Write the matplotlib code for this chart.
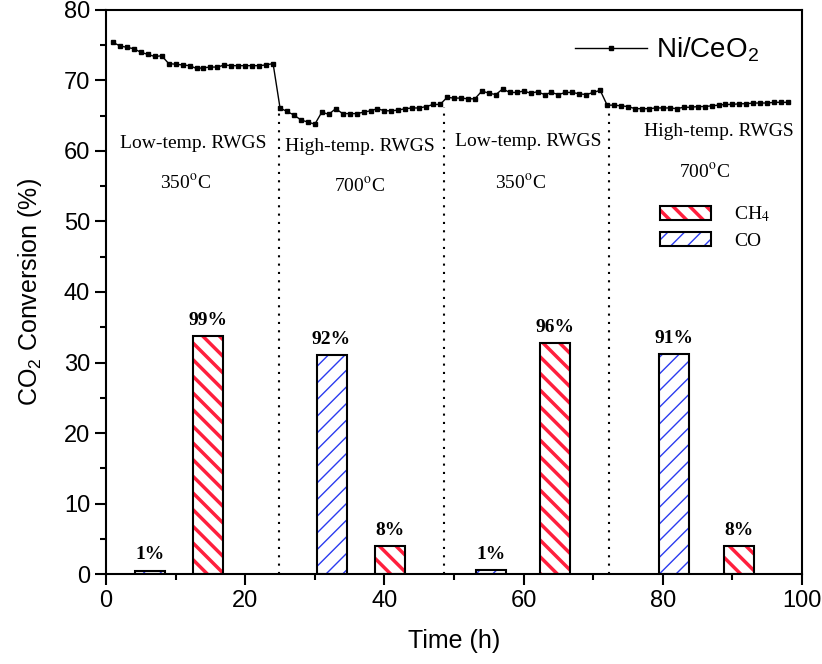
import matplotlib
matplotlib.use("Agg")
import matplotlib.pyplot as plt
from matplotlib.font_manager import FontProperties
from matplotlib.legend_handler import HandlerTuple, HandlerPatch
from matplotlib.lines import Line2D
from matplotlib.patches import Patch
import numpy as np

plt.rcParams['font.family'] = 'Liberation Sans'
plt.rcParams['mathtext.fontset'] = 'custom'
plt.rcParams['mathtext.rm'] = 'Liberation Sans'
plt.rcParams['mathtext.it'] = 'Liberation Sans:italic'
plt.rcParams['mathtext.bf'] = 'Liberation Sans:bold'

# hourly CO2 conversion of Ni/CeO2 (%)
conversion = [75.4, 74.9, 74.7, 74.5, 74.0, 73.7, 73.4, 73.5, 72.4, 72.3,
              72.2, 72.1, 71.7, 71.8, 71.9, 71.9, 72.2, 72.1, 72.1, 72.1,
              72.1, 72.1, 72.2, 72.4, 66.1, 65.6, 65.1, 64.4, 64.1, 63.8,
              65.5, 65.2, 66.0, 65.3, 65.3, 65.3, 65.5, 65.7, 66.0, 65.7,
              65.7, 65.8, 66.0, 66.1, 66.1, 66.3, 66.6, 66.6, 67.6, 67.5,
              67.5, 67.4, 67.4, 68.5, 68.2, 68.0, 68.8, 68.3, 68.3, 68.5,
              68.2, 68.4, 68.0, 68.3, 68.0, 68.3, 68.3, 68.1, 68.0, 68.3,
              68.6, 66.5, 66.5, 66.4, 66.3, 66.0, 66.0, 66.0, 66.1, 66.1,
              66.1, 66.0, 66.2, 66.2, 66.3, 66.3, 66.4, 66.5, 66.6, 66.6,
              66.7, 66.7, 66.8, 66.8, 66.8, 66.9, 66.9, 66.9]
hours = list(range(1, len(conversion) + 1))

# selectivity bars
co_time = [6.3, 32.4, 55.35, 81.6]
co_height = [0.5, 31.1, 0.6, 31.2]
co_labels = ['1%', '92%', '1%', '91%']
ch4_time = [14.6, 40.8, 64.55, 91.0]
ch4_height = [33.8, 4.0, 32.8, 4.0]
ch4_labels = ['99%', '8%', '96%', '8%']

# stage boundaries
switch_time = [24.8, 48.5, 72.3]
switch_top = [65.8, 66.3, 65.6]

stages = ['Low-temp. RWGS', 'High-temp. RWGS', 'Low-temp. RWGS', 'High-temp. RWGS']
stage_x = [12.5, 36.5, 60.6, 88.0]
stage_y = [61.1, 60.7, 61.3, 62.7]
temps = [r'350$^{\rm o}$C', r'700$^{\rm o}$C', r'350$^{\rm o}$C', r'700$^{\rm o}$C']
temp_x = [11.5, 36.5, 59.5, 86.0]
temp_y = [55.5, 55.0, 55.5, 57.0]

red = '#ff1f3d'
blue = '#2b3cf0'
serif = 'Liberation Serif'


def hatch_width(patches, lw):
    for p in patches:
        if hasattr(p, 'set_hatch_linewidth'):
            p.set_hatch_linewidth(lw)


class HatchHandler(HandlerPatch):
    # keep the thicker hatch of the original handle in the legend
    def create_artists(self, legend, orig_handle, xdescent, ydescent, width,
                       height, fontsize, trans):
        arts = super().create_artists(legend, orig_handle, xdescent, ydescent,
                                      width, height, fontsize, trans)
        if hasattr(orig_handle, 'get_hatch_linewidth'):
            hatch_width(arts, orig_handle.get_hatch_linewidth())
        return arts


fig = plt.figure(figsize=(8.22, 6.64), dpi=100)
ax = fig.add_axes([0.129, 0.1355, 0.8467, 0.8495])

bar_w = 4.3
ch4_bars = ax.bar(ch4_time, ch4_height, width=bar_w, color='white', edgecolor=red,
                  hatch='\\\\', linewidth=0)
co_bars = ax.bar(co_time, co_height, width=bar_w, color='white', edgecolor=blue,
                 hatch='//', linewidth=0)
hatch_width(ch4_bars, 2.5)
hatch_width(co_bars, 1.0)
ax.bar(ch4_time, ch4_height, width=bar_w, fill=False, edgecolor='black', linewidth=1.5)
ax.bar(co_time, co_height, width=bar_w, fill=False, edgecolor='black', linewidth=1.5)

for x, h, s in zip(co_time + ch4_time, co_height + ch4_height, co_labels + ch4_labels):
    ax.text(x, h + 1.0, s, ha='center', va='bottom', family=serif,
            fontweight='bold', fontsize=14)

for x, top in zip(switch_time, switch_top):
    ax.plot([x, x], [0, top], color='black', linestyle=(0, (1, 3)), linewidth=1.5)

ax.plot(hours, conversion, color='black', linewidth=1, marker='s', markersize=3.5)

for s, x, y in zip(stages, stage_x, stage_y):
    ax.text(x, y, s, ha='center', va='center', family=serif, fontsize=14)
for s, x, y in zip(temps, temp_x, temp_y):
    ax.text(x, y, s, ha='center', va='center', family=serif, fontsize=14,
            math_fontfamily='stix')

ax.set_xlim(0, 100)
ax.set_ylim(0, 80)
ax.set_xticks([0, 20, 40, 60, 80, 100])
ax.set_xticks([10, 30, 50, 70, 90], minor=True)
ax.set_yticks(np.arange(0, 81, 10))
ax.set_yticks(np.arange(5, 80, 10), minor=True)
ax.tick_params(which='major', direction='out', length=8, width=1.5, labelsize=17)
ax.tick_params(which='minor', direction='out', length=4, width=1.5)
for sp in ax.spines.values():
    sp.set_linewidth(1.5)

ax.set_xlabel('Time (h)', fontsize=18, labelpad=12)
ax.set_ylabel(r'CO$_2$ Conversion (%)', fontsize=18, labelpad=14)

line_leg = ax.legend(handles=[Line2D([], [], color='black', linewidth=1, marker='s',
                                     markersize=3.5)],
                     labels=[r'Ni/CeO$_2$'], loc='center left',
                     bbox_to_anchor=(0.674, 0.929), frameon=False, fontsize=20,
                     handlelength=2.6, handletextpad=0.3, borderpad=0,
                     borderaxespad=0)
ax.add_artist(line_leg)

ch4_fill = Patch(facecolor='white', edgecolor=red, hatch='\\\\', linewidth=0)
co_fill = Patch(facecolor='white', edgecolor=blue, hatch='//', linewidth=0)
hatch_width([ch4_fill], 2.5)
hatch_width([co_fill], 1.0)
ch4_edge = Patch(fill=False, edgecolor='black', linewidth=1.5)
co_edge = Patch(fill=False, edgecolor='black', linewidth=1.5)

bar_font = FontProperties(family=serif, size=14, math_fontfamily='stix')
ax.legend(handles=[(ch4_fill, ch4_edge), (co_fill, co_edge)],
          labels=[r'CH$_4$', 'CO'], loc='center left', bbox_to_anchor=(0.796, 0.615),
          frameon=False, prop=bar_font, handlelength=2.6, handleheight=0.75,
          handletextpad=1.2, labelspacing=0.4, borderpad=0, borderaxespad=0,
          handler_map={tuple: HandlerTuple(ndivide=1, pad=0), Patch: HatchHandler()})

fig.savefig('out.png', dpi=100)
